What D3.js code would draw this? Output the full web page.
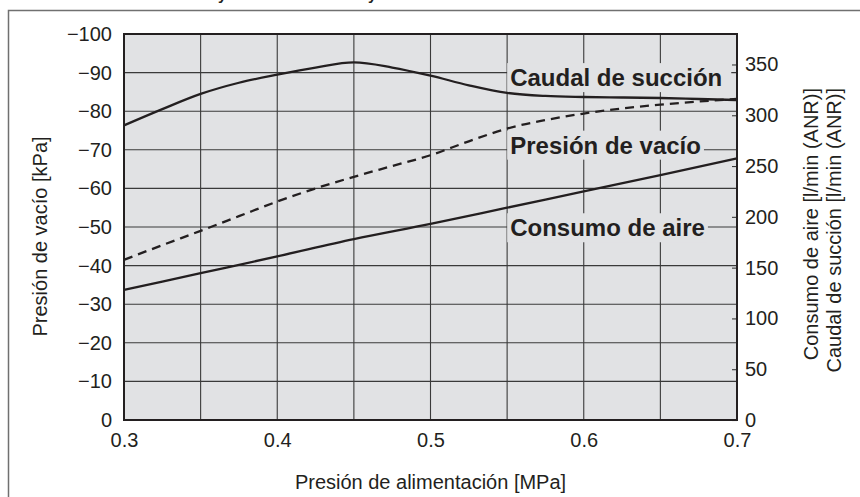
<!DOCTYPE html>
<html>
<head>
<meta charset="utf-8">
<script src="https://cdn.jsdelivr.net/npm/d3@7"></script>
<style>
  html, body { margin: 0; padding: 0; background: #fff; }
  svg { display: block; font-family: "Liberation Sans", Arial, Helvetica, sans-serif; }
</style>
</head>
<body>
<svg id="chart" width="860" height="497"></svg>
<script>
// Supply pressure readings [MPa]
const pressureFine = [0.3, 0.325, 0.35, 0.375, 0.4, 0.425, 0.45, 0.475, 0.5, 0.525, 0.55, 0.575, 0.6, 0.625, 0.65, 0.675, 0.7];
const pressureCoarse = [0.3, 0.35, 0.4, 0.45, 0.5, 0.55, 0.6, 0.65, 0.7];

// Suction flow [l/min (ANR)] — right axis
const suctionFlow = [290, 306, 321, 332, 340, 347, 352, 347, 339, 329.5, 322, 319, 318, 317.5, 317, 316, 315];
// Vacuum pressure [kPa] — left axis
const vacuumPressure = [-41.5, -45.3, -49, -52.8, -56.6, -60, -63, -65.8, -68.6, -72.2, -75.5, -77.7, -79.4, -80.7, -81.7, -82.5, -83.2];
// Air consumption [l/min (ANR)] — right axis
const airConsumption = [128, 144.5, 161, 178, 193, 209, 225, 241, 257.5];

// Axis ticks
const xTicks = [0.3, 0.4, 0.5, 0.6, 0.7];
const xGrid = [0.35, 0.4, 0.45, 0.5, 0.55, 0.6, 0.65];
const leftTicks = [0, -10, -20, -30, -40, -50, -60, -70, -80, -90, -100];
const leftTickLabels = ["0", "−10", "−20", "−30", "−40", "−50", "−60", "−70", "−80", "−90", "−100"];
const rightTicks = [0, 50, 100, 150, 200, 250, 300, 350];

// Texts
const titleText = "Presión de vacío y caudal de succión y consumo de aire";
const xTitle = "Presión de alimentación [MPa]";
const leftTitle = "Presión de vacío [kPa]";
const rightTitles = ["Consumo de aire [l/min (ANR)]", "Caudal de succión [l/min (ANR)]"];
const curveLabels = ["Caudal de succión", "Presión de vacío", "Consumo de aire"];
const curveLabelPos = [{p: 0.552, v: -86.5}, {p: 0.552, v: -69}, {p: 0.552, v: -47.6}];

const svg = d3.select("#chart");
const plot = {left: 124, right: 737, top: 34, bottom: 420};
const FONT = "'Liberation Sans', Arial, Helvetica, sans-serif";
const INK = "#231f20";

const x = d3.scaleLinear().domain([0.3, 0.7]).range([plot.left, plot.right]);
const yL = d3.scaleLinear().domain([0, -100]).range([plot.bottom, plot.top]);
const yR = d3.scaleLinear().domain([0, 380]).range([plot.bottom, plot.top]);

// Outer frame (top and left edges)
svg.append("path")
  .attr("d", `M8.5,${497} V10.5 H860`)
  .attr("fill", "none").attr("stroke", "#707070").attr("stroke-width", 1.5);

// Heading, cut by the top edge
const title = svg.append("text")
  .attr("font-weight", "bold").attr("font-size", 17).attr("fill", INK)
  .attr("y", -0.5).text(titleText);
{
  const node = title.node();
  const i1 = titleText.indexOf(" y ") + 1;
  const i2 = titleText.indexOf(" y ", i1 + 1) + 1;
  const gap = node.getSubStringLength(0, i2) - node.getSubStringLength(0, i1);
  title.attr("font-size", 17 * 150 / gap);
  title.attr("x", 218 - node.getSubStringLength(0, i1));
}

// Plot background
svg.append("rect")
  .attr("x", plot.left).attr("y", plot.top)
  .attr("width", plot.right - plot.left).attr("height", plot.bottom - plot.top)
  .attr("fill", "#e1e2e4");

// Grid
const grid = svg.append("g").attr("stroke", "#3a3a3a").attr("stroke-width", 1.1);
grid.selectAll("line.v").data(xGrid).join("line")
  .attr("x1", d => x(d)).attr("x2", d => x(d))
  .attr("y1", plot.top).attr("y2", plot.bottom);
grid.selectAll("line.h").data(leftTicks.slice(1, -1)).join("line")
  .attr("x1", plot.left).attr("x2", plot.right)
  .attr("y1", d => yL(d)).attr("y2", d => yL(d));

// Curve labels with backgrounds that interrupt the grid
const labelG = svg.append("g");
curveLabels.forEach((t, i) => {
  const g = labelG.append("g");
  const txt = g.append("text")
    .attr("x", x(curveLabelPos[i].p)).attr("y", yL(curveLabelPos[i].v))
    .attr("font-size", 24).attr("font-weight", "bold").attr("fill", INK)
    .text(t);
  const b = txt.node().getBBox();
  g.insert("rect", "text")
    .attr("x", b.x - 3).attr("y", b.y - 1)
    .attr("width", b.width + (i === 0 ? 12 : 6)).attr("height", b.height + 2)
    .attr("fill", "#e1e2e4");
});

// Right axis (ticks pointing inward)
const rAxis = svg.append("g")
  .attr("transform", `translate(${plot.right},0)`)
  .call(d3.axisRight(yR).tickValues(rightTicks).tickSize(-5).tickPadding(8));
rAxis.select(".domain").remove();
rAxis.selectAll("line").attr("stroke", "#3a3a3a").attr("stroke-width", 1.1);
rAxis.selectAll("text").attr("font-size", 20).attr("fill", INK).attr("font-family", FONT);

// Left axis
const lAxis = svg.append("g")
  .attr("transform", `translate(${plot.left},0)`)
  .call(d3.axisLeft(yL).tickValues(leftTicks).tickSize(0).tickPadding(12)
    .tickFormat((d, i) => leftTickLabels[i]));
lAxis.select(".domain").remove();
lAxis.selectAll("text").attr("font-size", 20).attr("fill", INK).attr("font-family", FONT);

// Bottom axis
const bAxis = svg.append("g")
  .attr("transform", `translate(0,${plot.bottom})`)
  .call(d3.axisBottom(x).tickValues(xTicks).tickSize(0).tickPadding(13)
    .tickFormat(d3.format(".1f")));
bAxis.select(".domain").remove();
bAxis.selectAll("text").attr("font-size", 20).attr("fill", INK).attr("font-family", FONT);

// Curves
const lineR = (xs) => d3.line().x((d, i) => x(xs[i])).y(d => yR(d)).curve(d3.curveMonotoneX);
const lineL = (xs) => d3.line().x((d, i) => x(xs[i])).y(d => yL(d)).curve(d3.curveMonotoneX);

const curves = svg.append("g").attr("fill", "none").attr("stroke", INK)
  .attr("stroke-width", 2.3);
curves.append("path").attr("d", lineR(pressureFine)(suctionFlow));
curves.append("path").attr("d", lineL(pressureFine)(vacuumPressure))
  .attr("stroke-dasharray", "9,6");
curves.append("path").attr("d", lineR(pressureCoarse)(airConsumption));

// Plot border
svg.append("rect")
  .attr("x", plot.left).attr("y", plot.top)
  .attr("width", plot.right - plot.left).attr("height", plot.bottom - plot.top)
  .attr("fill", "none").attr("stroke", INK).attr("stroke-width", 2);

// Axis titles
svg.append("text")
  .attr("x", x(0.5)).attr("y", 489)
  .attr("text-anchor", "middle").attr("font-size", 20).attr("fill", INK)
  .text(xTitle);

svg.append("text")
  .attr("transform", `translate(47,236.5) rotate(-90)`)
  .attr("text-anchor", "middle").attr("font-size", 20).attr("fill", INK)
  .text(leftTitle);

rightTitles.forEach((t, i) => {
  svg.append("text")
    .attr("transform", `translate(${818 + i * 23},88) rotate(-90)`)
    .attr("text-anchor", "end").attr("font-size", 20).attr("fill", INK)
    .text(t);
});
</script>
</body>
</html>
